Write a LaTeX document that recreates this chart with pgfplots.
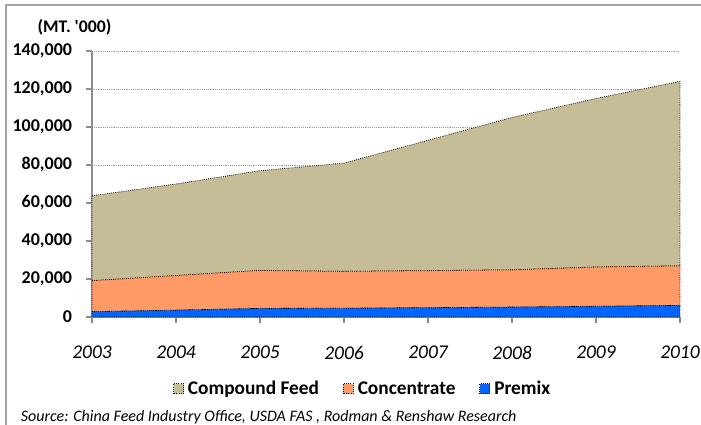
\documentclass[border=0pt]{standalone}
\usepackage{fontspec}
\setmainfont{Carlito}
\usepackage{pgfplots}
\pgfplotsset{compat=1.18}
\definecolor{cfeed}{HTML}{C4BD97}
\definecolor{conc}{HTML}{FF9966}
\definecolor{prem}{HTML}{0066FF}
\definecolor{axgray}{HTML}{8C8C8C}
\begin{document}
\begin{tikzpicture}
\useasboundingbox (0,0) rectangle (525.75pt,318.75pt);
\draw[axgray!80, line width=0.8pt] (4.5pt,-5pt) -- (4.5pt,315pt) -- (540pt,315pt);
\begin{axis}[
  at={(69pt,81pt)}, anchor=south west,
  scale only axis, width=441pt, height=199.5pt,
  xmin=2003, xmax=2010, ymin=0, ymax=140000,
  xtick={2003,2004,2005,2006,2007,2008,2009,2010},
  xticklabels={2003,2004,2005,2006,2007,2008,2009,2010},
  ytick={0,20000,40000,60000,80000,100000,120000,140000},
  yticklabels={0,{20,000},{40,000},{60,000},{80,000},{100,000},{120,000},{140,000}},
  axis x line*=bottom, axis y line*=left,
  axis line style={axgray, line width=0.8pt},
  tick style={axgray, line width=0.8pt},
  tick align=outside, major tick length=4.5pt,
  ymajorgrids, grid style={densely dotted, gray!80, line width=0.5pt},
  yticklabel style={font=\fontsize{13.5}{15}\selectfont\bfseries, xshift=-7pt},
  scaled y ticks=false,
  xticklabel style={font=\fontsize{14.6}{16}\selectfont\itshape, yshift=-14pt},
  stack plots=y,
  legend style={at={(0.461,-0.271)}, anchor=center, draw=none, legend columns=-1,
    font=\fontsize{14.5}{16}\selectfont\bfseries,
    /tikz/every even column/.append style={column sep=16pt},
    /tikz/every odd column/.append style={column sep=1pt}},
  legend image code/.code={\draw[#1, densely dotted, line width=0.6pt] (0pt,-3.5pt) rectangle (7.5pt,4pt);},
  reverse legend,
  clip=false,
]
\addplot[fill=prem, draw=black, densely dotted, line width=0.6pt] coordinates {
(2003,2800) (2004,3600) (2005,4500) (2006,4600) (2007,4900) (2008,5200) (2009,5600) (2010,6100)} \closedcycle;
\addlegendentry{Premix}
\addplot[fill=conc, draw=black, densely dotted, line width=0.6pt] coordinates {
(2003,16300) (2004,18200) (2005,20000) (2006,19400) (2007,19500) (2008,19600) (2009,20700) (2010,20800)} \closedcycle;
\addlegendentry{Concentrate}
\addplot[fill=cfeed, draw=black, densely dotted, line width=0.6pt] coordinates {
(2003,44700) (2004,48200) (2005,52500) (2006,57000) (2007,68600) (2008,80200) (2009,88700) (2010,97100)} \closedcycle;
\addlegendentry{Compound Feed}
\end{axis}
\node[font=\fontsize{13.3}{15}\selectfont\bfseries] at (55.9pt,298.5pt) {(MT. \textquotesingle 000)};
\node[anchor=west, font=\fontsize{12}{14}\selectfont\itshape, inner sep=0pt] at (15.5pt,6pt) {Source: China Feed Industry Office, USDA FAS , Rodman \& Renshaw Research};
\end{tikzpicture}
\end{document}
